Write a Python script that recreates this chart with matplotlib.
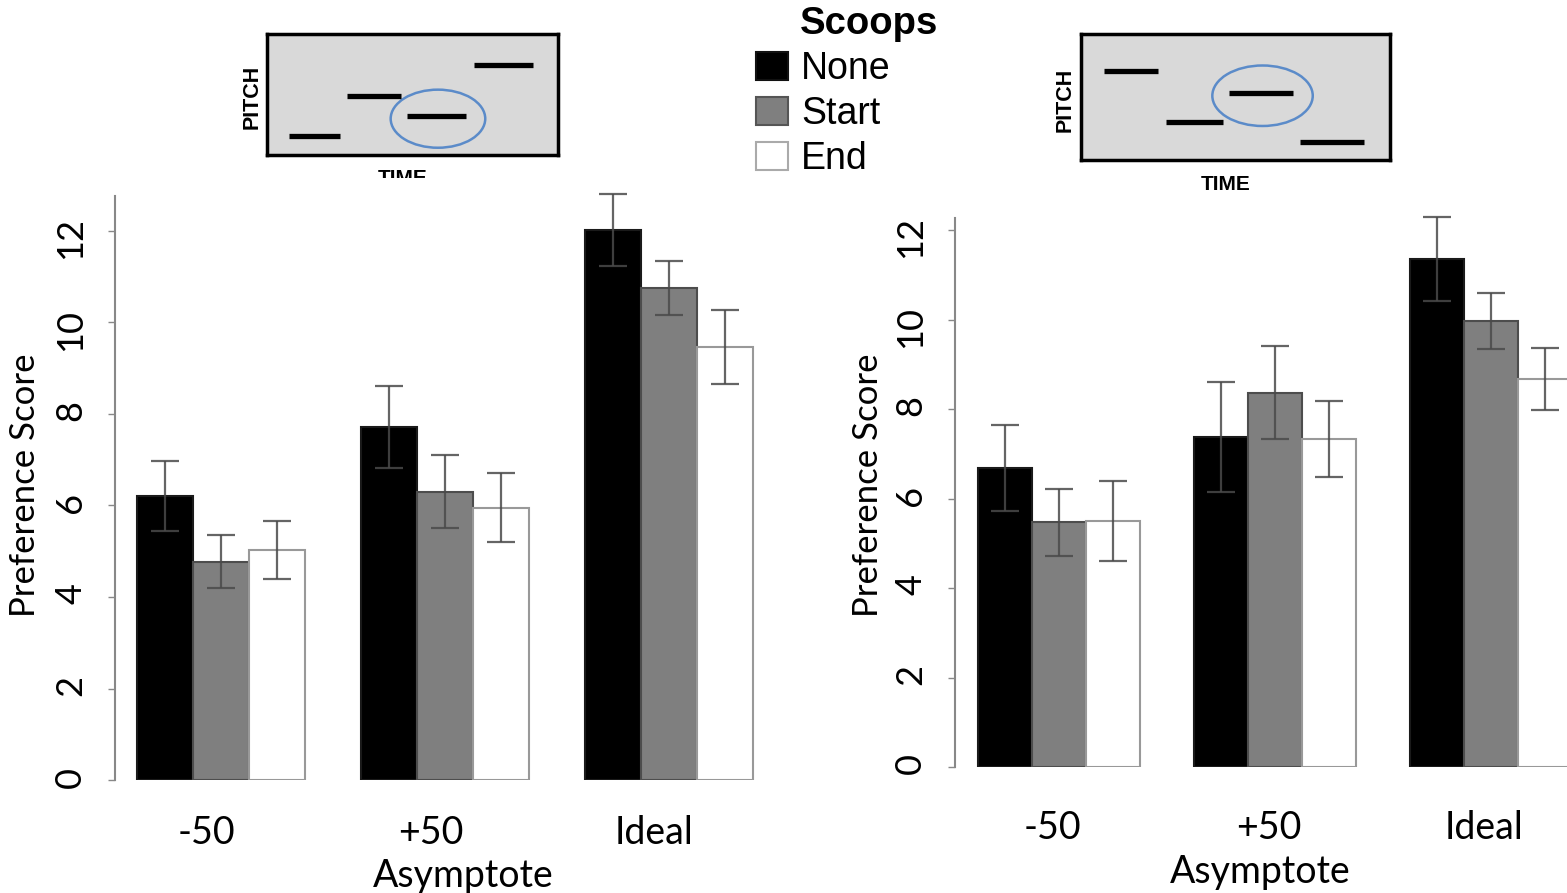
import matplotlib.pyplot as plt
from matplotlib.patches import Ellipse, Patch
from matplotlib.transforms import Bbox, TransformedBbox

W, H = 1567, 893

# data
asymptotes = ['-50', '+50', 'Ideal']
scoops = ['None', 'Start', 'End']

left_none = [6.21, 7.72, 12.02]
left_start = [4.77, 6.30, 10.75]
left_end = [5.03, 5.95, 9.46]
left_none_err = [0.77, 0.90, 0.79]
left_start_err = [0.58, 0.80, 0.59]
left_end_err = [0.63, 0.75, 0.81]

right_none = [6.68, 7.37, 11.35]
right_start = [5.47, 8.36, 9.97]
right_end = [5.50, 7.33, 8.67]
right_none_err = [0.96, 1.23, 0.94]
right_start_err = [0.75, 1.04, 0.62]
right_end_err = [0.90, 0.85, 0.69]

# pitch/time sketches (time 0-10, pitch 0-10)
note_times = [(0.75, 2.5), (2.75, 4.6), (4.8, 6.85), (7.1, 9.15)]
left_pitches = [1.6, 4.9, 3.2, 7.4]
right_pitches = [7.1, 3.0, 5.3, 1.4]
target_note = 2

bar_colors = ['black', '#7f7f7f', 'white']
edge_colors = ['#1a1a1a', '#4d4d4d', '#999999']
FONT = 'Lato'


def px_rect(x0, y0, x1, y1):
    return [x0 / W, 1 - y1 / H, (x1 - x0) / W, (y1 - y0) / H]


def draw_panel(rect, xlim, ylim, spine_top, series, errs, xpad, label_shift):
    ax = fig.add_axes(rect)
    x = list(range(len(asymptotes)))
    w = 0.25
    for i, (vals, err) in enumerate(zip(series, errs)):
        pos = [xi + (i - 1) * w for xi in x]
        ax.bar(pos, vals, width=w, color=bar_colors[i], edgecolor=edge_colors[i],
               linewidth=1.5, zorder=2)
        ax.errorbar(pos, vals, yerr=err, fmt='none', ecolor='#4a4a4a', elinewidth=1.6,
                    capsize=10, capthick=1.6, alpha=0.85, zorder=3)
    ax.set_xlim(*xlim)
    ax.set_ylim(*ylim)
    ax.set_yticks(range(0, 13, 2))
    # category labels sit a little left of the group centres
    ax.set_xticks([xi + label_shift for xi in x])
    ax.set_xticklabels(asymptotes, fontfamily=FONT, fontsize=27)
    ax.tick_params(axis='x', length=0, pad=xpad)
    ax.tick_params(axis='y', direction='out', length=5, width=1, color='#888888',
                   labelrotation=90, labelsize=26, pad=15)
    for lab in ax.get_yticklabels():
        lab.set_fontfamily(FONT)
    for s in ['top', 'right', 'bottom']:
        ax.spines[s].set_visible(False)
    ax.spines['left'].set_color('#888888')
    ax.spines['left'].set_linewidth(1.5)
    ax.spines['left'].set_bounds(0, spine_top)
    ax.patch.set_alpha(0)
    return ax


def draw_sketch(rect, pitches, time_xy, pitch_xy, time_clip=None):
    ax = fig.add_axes(rect)
    ax.set_facecolor('#d9d9d9')
    for s in ax.spines.values():
        s.set_linewidth(2.5)
        s.set_color('black')
    ax.set_xticks([])
    ax.set_yticks([])
    ax.set_xlim(0, 10)
    ax.set_ylim(0, 10)
    for (t0, t1), p in zip(note_times, pitches):
        ax.plot([t0, t1], [p, p], color='black', lw=3.8, solid_capstyle='butt')
    t0, t1 = note_times[target_note]
    ax.add_patch(Ellipse(((t0 + t1) / 2 + 0.05, pitches[target_note] - 0.2), 3.25, 4.8,
                         fill=False, edgecolor='#5b8bc9', lw=1.8))
    fig.text(pitch_xy[0] / W, 1 - pitch_xy[1] / H, 'PITCH', rotation=90, ha='center',
             va='center', fontsize=15.5, fontweight='bold', fontfamily='Liberation Sans')
    t = fig.text(time_xy[0] / W, 1 - time_xy[1] / H, 'TIME', ha='center', va='center',
                 fontsize=15, fontweight='bold', fontfamily='Liberation Sans')
    if time_clip is not None:
        t.set_clip_box(TransformedBbox(Bbox.from_extents(0, 1 - time_clip / H, 1, 1),
                                       fig.transFigure))
        t.set_clip_on(True)


fig = plt.figure(figsize=(W / 100, H / 100), dpi=100)

# left panel: 0 at y=780 px, 45.75 px per unit, groups 224 px apart
draw_panel([115 / W, 1 - 780 / H, (776 - 115) / W, 12.9 * 45.75 / H],
           (-0.473, 2.478), (0, 12.9), 12.77,
           [left_none, left_start, left_end],
           [left_none_err, left_start_err, left_end_err], 25, -0.065)

# right panel: 0 at y=767 px, 44.75 px per unit, groups 216 px apart
draw_panel([955 / W, 1 - 767 / H, (W - 955) / W, 12.4 * 44.75 / H],
           (-0.481, 2.352), (0, 12.4), 12.27,
           [right_none, right_start, right_end],
           [right_none_err, right_start_err, right_end_err], 31, -0.03)

fig.text(25 / W, 1 - 485 / H, 'Preference Score', rotation=90, ha='center', va='center',
         fontsize=25, fontfamily=FONT)
fig.text(868 / W, 1 - 485 / H, 'Preference Score', rotation=90, ha='center', va='center',
         fontsize=25, fontfamily=FONT)
fig.text(463 / W, 1 - 876 / H, 'Asymptote', ha='center', va='center', fontsize=27, fontfamily=FONT)
fig.text(1260 / W, 1 - 872 / H, 'Asymptote', ha='center', va='center', fontsize=27, fontfamily=FONT)

draw_sketch(px_rect(267, 34, 558, 155), left_pitches, (403, 178), (252, 97), time_clip=178)
draw_sketch(px_rect(1081, 34, 1390, 160), right_pitches, (1226, 184), (1065, 100))

# legend
handles = [Patch(facecolor=c, edgecolor=e, linewidth=1.5) for c, e in zip(bar_colors, ['#111111', '#555555', '#aaaaaa'])]
fig.legend(handles, scoops, loc='upper left', bbox_to_anchor=(756 / W, 1 - 51 / H),
           frameon=False, borderpad=0, borderaxespad=0, handlelength=0.85, handleheight=0.8,
           handletextpad=0.35, labelspacing=0.24,
           prop={'family': 'Liberation Sans', 'size': 27})
fig.text(800 / W, 1 - 24 / H, 'Scoops', ha='left', va='center', fontsize=27.5,
         fontweight='bold', fontfamily='Liberation Sans')

fig.savefig('out.png', dpi=100)
